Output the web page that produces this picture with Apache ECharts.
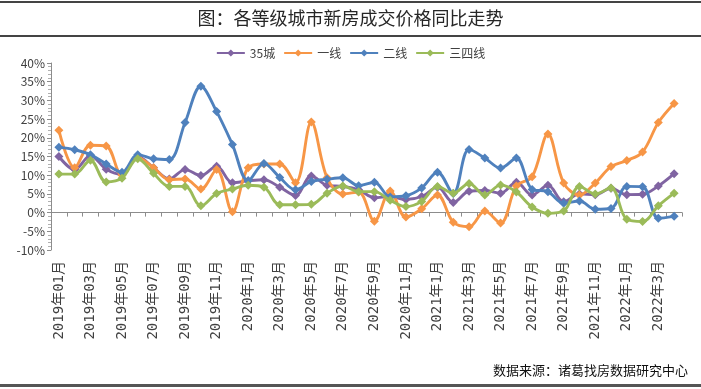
<!DOCTYPE html>
<html>
<head>
<meta charset="utf-8">
<script src="https://cdn.jsdelivr.net/npm/echarts@6/dist/echarts.min.js"></script>
<style>
html,body{margin:0;padding:0;background:#fff;}
#c{width:701px;height:389px;}
</style>
</head>
<body>
<div id="c"></div>
<script>
var categories = [
  '2019年01月','2019年02月','2019年03月','2019年04月','2019年05月','2019年06月',
  '2019年07月','2019年08月','2019年09月','2019年10月','2019年11月','2019年12月',
  '2020年1月','2020年2月','2020年3月','2020年4月','2020年5月','2020年6月',
  '2020年7月','2020年8月','2020年9月','2020年10月','2020年11月','2020年12月',
  '2021年1月','2021年2月','2021年3月','2021年4月','2021年5月','2021年6月',
  '2021年7月','2021年8月','2021年9月','2021年10月','2021年11月','2021年12月',
  '2022年1月','2022年2月','2022年3月','2022年4月'
];
var seriesNames = ['35城', '一线', '二线', '三四线'];
var city35 = [15.0, 11.5, 15.2, 11.6, 10.2, 15.0, 12.0, 9.0, 11.5, 9.9, 12.4, 8.0, 8.5, 8.8, 6.8, 4.6, 9.8, 7.3, 7.0, 6.1, 4.0, 4.3, 3.5, 4.3, 6.8, 2.7, 5.7, 5.9, 5.2, 8.1, 4.7, 7.3, 2.9, 5.0, 4.8, 6.5, 4.8, 4.9, 7.1, 10.4];
var tier1 = [22.0, 12.0, 18.0, 17.8, 10.0, 14.7, 12.0, 8.8, 9.0, 6.3, 11.5, 0.2, 12.0, 13.0, 13.0, 8.0, 24.2, 9.3, 5.0, 5.5, -2.3, 5.8, -1.2, 1.0, 4.7, -2.6, -3.8, 0.4, -2.8, 7.1, 9.6, 21.0, 7.9, 4.7, 7.9, 12.3, 13.9, 16.2, 24.1, 29.2];
var tier2 = [17.5, 16.8, 15.5, 13.0, 10.8, 15.5, 14.4, 14.2, 24.1, 33.8, 27.0, 18.2, 8.5, 13.1, 9.4, 6.1, 8.3, 8.9, 9.3, 7.2, 8.1, 4.2, 4.5, 6.6, 10.8, 5.1, 16.9, 14.6, 11.9, 14.6, 6.2, 5.6, 2.5, 3.1, 0.9, 1.1, 7.0, 6.9, -1.5, -1.0];
var tier34 = [10.3, 10.3, 14.0, 8.2, 9.2, 14.4, 10.5, 7.0, 7.0, 1.8, 5.1, 6.3, 7.3, 6.8, 2.1, 2.1, 2.2, 5.2, 7.1, 5.6, 5.6, 3.3, 1.6, 3.0, 7.0, 5.2, 7.8, 4.7, 7.4, 5.5, 1.5, -0.2, 0.4, 7.0, 5.0, 6.6, -1.8, -2.4, 1.8, 5.2];
var colors = ['#8064A2', '#F79646', '#4F81BD', '#9BBB59'];
var titleText = '图：各等级城市新房成交价格同比走势';
var sourceText = '数据来源：诸葛找房数据研究中心';

var chart = echarts.init(document.getElementById('c'), null, {renderer: 'canvas'});
var allData = [city35, tier1, tier2, tier34];
var font = '"Noto Sans CJK SC", "Noto Sans", sans-serif';

function mkSeries(i) {
  return {
    name: seriesNames[i],
    type: 'line',
    xAxisIndex: 0,
    data: allData[i],
    smooth: 0.35,
    symbol: 'diamond',
    symbolSize: 9,
    lineStyle: {width: 2.9, color: colors[i]},
    itemStyle: {color: colors[i]},
    emphasis: {disabled: true},
    z: 2 + i
  };
}

chart.setOption({
  animation: false,
  textStyle: {fontFamily: font},
  color: colors,
  legend: {
    top: 42,
    left: 'center',
    itemWidth: 28,
    itemHeight: 9,
    itemGap: 8,
    textStyle: {fontSize: 12, color: '#404040', fontFamily: font},
    data: seriesNames
  },
  grid: {left: 51, right: 19, top: 63, bottom: 139, containLabel: false},
  xAxis: [{
    type: 'category',
    data: categories,
    boundaryGap: true,
    axisLine: {onZero: true, lineStyle: {color: '#8c8c8c', width: 1}},
    axisTick: {show: true, interval: 0, length: 4, lineStyle: {color: '#8c8c8c'}},
    axisLabel: {show: false}
  }, {
    type: 'category',
    data: categories,
    position: 'bottom',
    boundaryGap: true,
    axisLine: {show: false, onZero: false},
    axisTick: {show: false},
    axisLabel: {
      show: true,
      interval: 1,
      rotate: 90,
      margin: 11,
      fontSize: 14,
      color: '#404040',
      fontFamily: '"DejaVu Sans Mono", "Noto Sans CJK SC", monospace'
    }
  }],
  yAxis: {
    type: 'value',
    min: -10,
    max: 40,
    interval: 5,
    axisLine: {show: true, lineStyle: {color: '#8c8c8c'}},
    axisTick: {show: true, length: 4, lineStyle: {color: '#8c8c8c'}},
    minorTick: {show: true, splitNumber: 5, length: 3, lineStyle: {color: '#b0b0b0'}},
    splitLine: {show: false},
    axisLabel: {formatter: '{value}%', fontSize: 12, color: '#404040', margin: 6}
  },
  graphic: [
    {type: 'rect', left: 0, top: 1, shape: {width: 701, height: 2}, style: {fill: '#444'}, silent: true},
    {type: 'text', left: 'center', top: 9, style: {text: titleText, fontSize: 18, fill: '#262626', fontFamily: font}, silent: true},
    {type: 'rect', left: 0, top: 35, shape: {width: 701, height: 2}, style: {fill: '#444'}, silent: true},
    {type: 'text', right: 13, top: 364, style: {text: sourceText, fontSize: 13, fill: '#111', fontFamily: font}, silent: true},
    {type: 'rect', left: 0, top: 384, shape: {width: 701, height: 3}, style: {fill: '#555'}, silent: true}
  ],
  series: [mkSeries(0), mkSeries(1), mkSeries(2), mkSeries(3)]
});
</script>
</body>
</html>
